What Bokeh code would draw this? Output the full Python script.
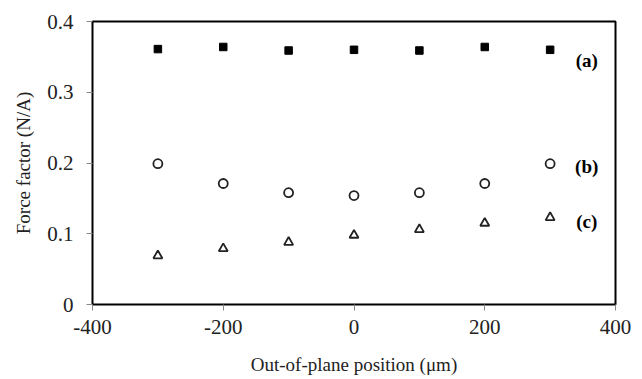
from bokeh.plotting import figure
from bokeh.models import FixedTicker, ColumnDataSource
from bokeh.core.properties import value
from bokeh.embed import file_html
from bokeh.resources import INLINE

# data
positions = [-300, -200, -100, 0, 100, 200, 300]
series_a = [0.361, 0.364, 0.359, 0.360, 0.359, 0.364, 0.360]
series_b = [0.199, 0.171, 0.158, 0.154, 0.158, 0.171, 0.199]
series_c = [0.069, 0.079, 0.088, 0.098, 0.106, 0.115, 0.123]

x_ticks = [-400, -200, 0, 200, 400]
x_tick_labels = ["-400", "-200", "0", "200", "400"]
y_ticks = [0, 0.1, 0.2, 0.3, 0.4]
y_tick_labels = ["0", "0.1", "0.2", "0.3", "0.4"]

label_texts = ["(a)", "(b)", "(c)"]
label_x = [356, 356, 356]
label_y = [0.345, 0.195, 0.117]

FONT = "Liberation Serif"

p = figure(width=642, height=379, output_backend="svg", toolbar_location=None,
           x_range=(-400, 400), y_range=(0, 0.4),
           min_border_left=92, min_border_right=27, min_border_top=21, min_border_bottom=75)
p.xgrid.visible = False
p.ygrid.visible = False
p.outline_line_color = "black"
p.outline_line_width = 2
p.background_fill_color = "white"
p.border_fill_color = "white"

p.xaxis.ticker = FixedTicker(ticks=x_ticks)
p.yaxis.ticker = FixedTicker(ticks=y_ticks)
p.xaxis.major_label_overrides = {t: l for t, l in zip(x_ticks, x_tick_labels)}
p.yaxis.major_label_overrides = {t: l for t, l in zip(y_ticks, y_tick_labels)}
p.xaxis.axis_label = "Out-of-plane position (\u03bcm)"
p.yaxis.axis_label = "Force factor (N/A)"

for ax in (p.xaxis[0], p.yaxis[0]):
    ax.axis_line_color = None
    ax.major_tick_line_color = "#888888"
    ax.major_tick_in = 0
    ax.major_tick_out = 6
    ax.minor_tick_line_color = None
    ax.major_label_text_font = FONT
    ax.major_label_text_font_size = "21px"
    ax.major_label_text_color = "#222222"
    ax.axis_label_text_font = FONT
    ax.axis_label_text_font_size = "19px"
    ax.axis_label_text_font_style = "normal"
    ax.axis_label_text_color = "#222222"

p.xaxis.major_label_standoff = 9
p.yaxis.major_label_standoff = 13
p.xaxis.axis_label_standoff = 17
p.yaxis.axis_label_standoff = 10

p.scatter(positions, series_a, marker="square", size=7.5, fill_color="black", line_color="black")
p.scatter(positions, series_b, marker="circle", size=9, fill_color="white",
          line_color="#222222", line_width=1.8)
p.scatter(positions, series_c, marker="triangle", size=9, fill_color="white",
          line_color="#222222", line_width=1.8)

src = ColumnDataSource(dict(x=label_x, y=label_y, t=label_texts))
p.text(x="x", y="y", text="t", source=src, text_font=value(FONT), text_font_size="19px",
       text_font_style="bold", text_align="center", text_baseline="middle", text_color="black")

open("out.html", "w").write(file_html(p, INLINE))
